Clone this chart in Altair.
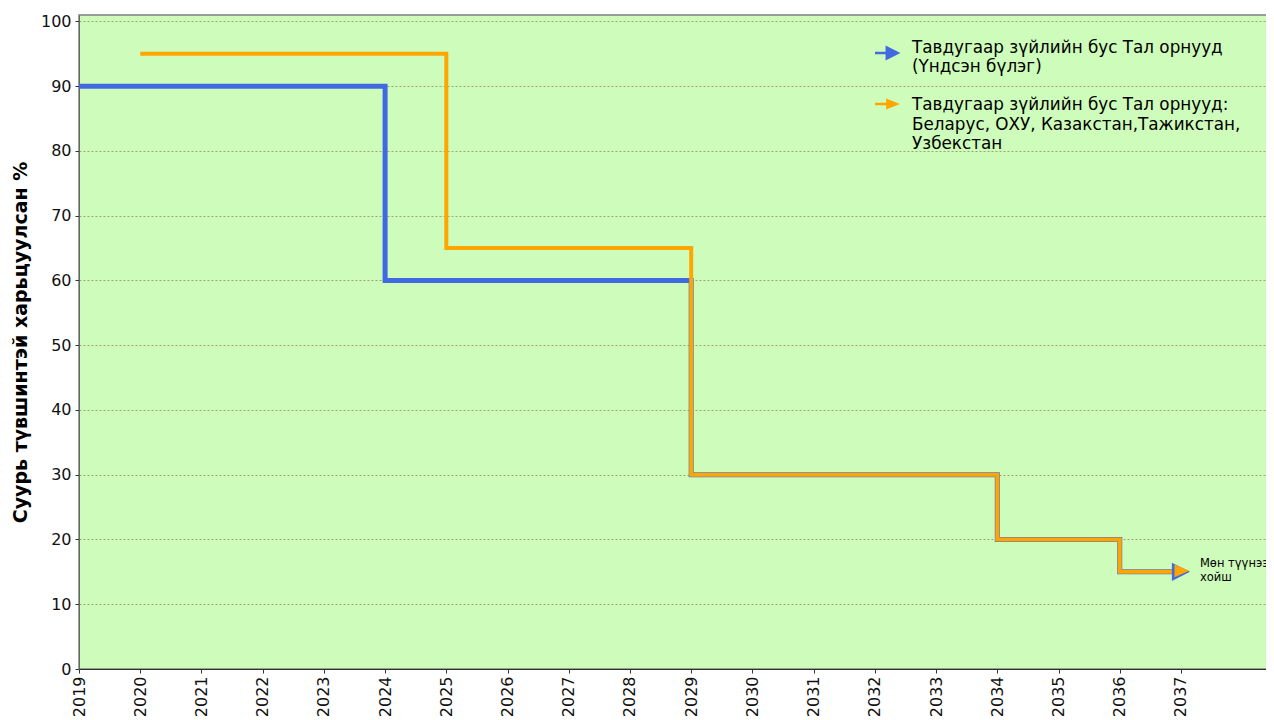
import altair as alt
import pandas as pd

# ---- data ----
blue_years = [2019, 2024, 2029, 2034, 2036, 2037]
blue_values = [90, 60, 30, 20, 15, 15]
orange_years = [2020, 2025, 2029, 2034, 2036, 2037]
orange_values = [95, 65, 30, 20, 15, 15]
blue_legend = ["Тавдугаар зүйлийн бус Тал орнууд", "(Үндсэн бүлэг)"]
orange_legend = ["Тавдугаар зүйлийн бус Тал орнууд:", "Беларус, ОХУ, Казакстан,Тажикстан,", "Узбекстан"]
note_lines = ["Мөн түүнээс", "хойш"]
x_ticks = list(range(2019, 2038))
y_ticks = list(range(0, 101, 10))
y_title = "Суурь түвшинтэй харьцуулсан %"

BLUE = "#4169E1"
ORANGE = "#FFA500"
FONT = "DejaVu Sans"

blue_df = pd.DataFrame({"year": blue_years, "value": blue_values})
orange_df = pd.DataFrame({"year": orange_years, "value": orange_values})

xs = alt.Scale(domain=[2019, 2038.52], nice=False, zero=False)
ys = alt.Scale(domain=[0, 101], nice=False)

x_axis = alt.Axis(values=x_ticks, format="d", labelAngle=270, grid=False,
                  labelFontSize=16, labelColor="#111", tickSize=4, tickColor="#333",
                  domainColor="#333", labelPadding=3, title=None, labelFont=FONT)
y_axis = alt.Axis(values=y_ticks, format="d", grid=True, gridDash=[2, 2],
                  gridColor="#8f8f60", gridWidth=0.8, labelFontSize=16, labelColor="#111",
                  tickSize=4, tickColor="#333", domainColor="#666", labelPadding=4,
                  title=y_title, titleFontSize=19, titleFontWeight="bold", titleFont=FONT,
                  titleColor="#000", titlePadding=10, labelFont=FONT)

x_enc = alt.X("year:Q", scale=xs, axis=x_axis)
y_enc = alt.Y("value:Q", scale=ys, axis=y_axis)

blue_line = alt.Chart(blue_df).mark_line(
    interpolate="step-after", color=BLUE, strokeWidth=5, strokeCap="butt", strokeJoin="miter"
).encode(x=x_enc, y=y_enc)
orange_line = alt.Chart(orange_df).mark_line(
    interpolate="step-after", color=ORANGE, strokeWidth=4, strokeCap="butt", strokeJoin="miter"
).encode(x=alt.X("year:Q", scale=xs), y=alt.Y("value:Q", scale=ys))

blue_head = alt.Chart(blue_df.tail(1)).mark_point(
    shape="M-1,-1L1,0L-1,1Z", size=330, filled=True, opacity=1, color=BLUE, strokeWidth=0
).encode(x=alt.X("year:Q", scale=xs), y=alt.Y("value:Q", scale=ys))
orange_head = alt.Chart(orange_df.tail(1)).mark_point(
    shape="M-1,-0.85L1,0L-1,0.85Z", size=220, filled=True, opacity=1, color=ORANGE, strokeWidth=0,
    xOffset=1, yOffset=-1
).encode(x=alt.X("year:Q", scale=xs), y=alt.Y("value:Q", scale=ys))

note_df = pd.DataFrame({"year": [blue_years[-1]], "value": [blue_values[-1]], "txt": [note_lines]})
note = alt.Chart(note_df).mark_text(
    align="left", baseline="middle", dx=19, dy=-8, fontSize=11.5, lineHeight=14, font=FONT, color="#000"
).encode(x=alt.X("year:Q", scale=xs), y=alt.Y("value:Q", scale=ys), text="txt")

# ---- legend (drawn by hand in pixel space) ----
leg_df = pd.DataFrame({"b": [blue_legend], "o": [orange_legend]})
base_leg = alt.Chart(leg_df)
leg_b_shaft = base_leg.mark_rule(color=BLUE, strokeWidth=2.5).encode(
    x=alt.value(796), x2=alt.value(810), y=alt.value(38))
leg_b_head = base_leg.mark_point(shape="M-1,-1L1,0L-1,1Z", size=220, filled=True, opacity=1,
                                 strokeWidth=0, color=BLUE).encode(x=alt.value(814), y=alt.value(38))
leg_o_shaft = base_leg.mark_rule(color=ORANGE, strokeWidth=2.5).encode(
    x=alt.value(796), x2=alt.value(810), y=alt.value(89))
leg_o_head = base_leg.mark_point(shape="M-1,-0.8L1,0L-1,0.8Z", size=190, filled=True, opacity=1,
                                 strokeWidth=0, color=ORANGE).encode(x=alt.value(814), y=alt.value(89))
leg_b_text = base_leg.mark_text(align="left", baseline="middle", fontSize=16.8, lineHeight=19,
                                font=FONT, color="#000").encode(
    x=alt.value(833), y=alt.value(33), text="b")
leg_o_text = base_leg.mark_text(align="left", baseline="middle", fontSize=16.8, lineHeight=19.5,
                                font=FONT, color="#000").encode(
    x=alt.value(833), y=alt.value(90), text="o")

chart = alt.layer(
    blue_line, orange_line, blue_head, orange_head, note,
    leg_b_shaft, leg_b_head, leg_o_shaft, leg_o_head, leg_b_text, leg_o_text
).properties(
    width=1195, height=654,
    autosize=alt.AutoSizeParams(type="none"),
    padding={"left": 71, "top": 7, "right": -8, "bottom": 51},
    background="white",
).configure_view(
    fill="#CEFCBA", stroke="#808080", strokeWidth=1.5
)

chart.save("out.html", embed_options={"renderer": "svg", "actions": False})
